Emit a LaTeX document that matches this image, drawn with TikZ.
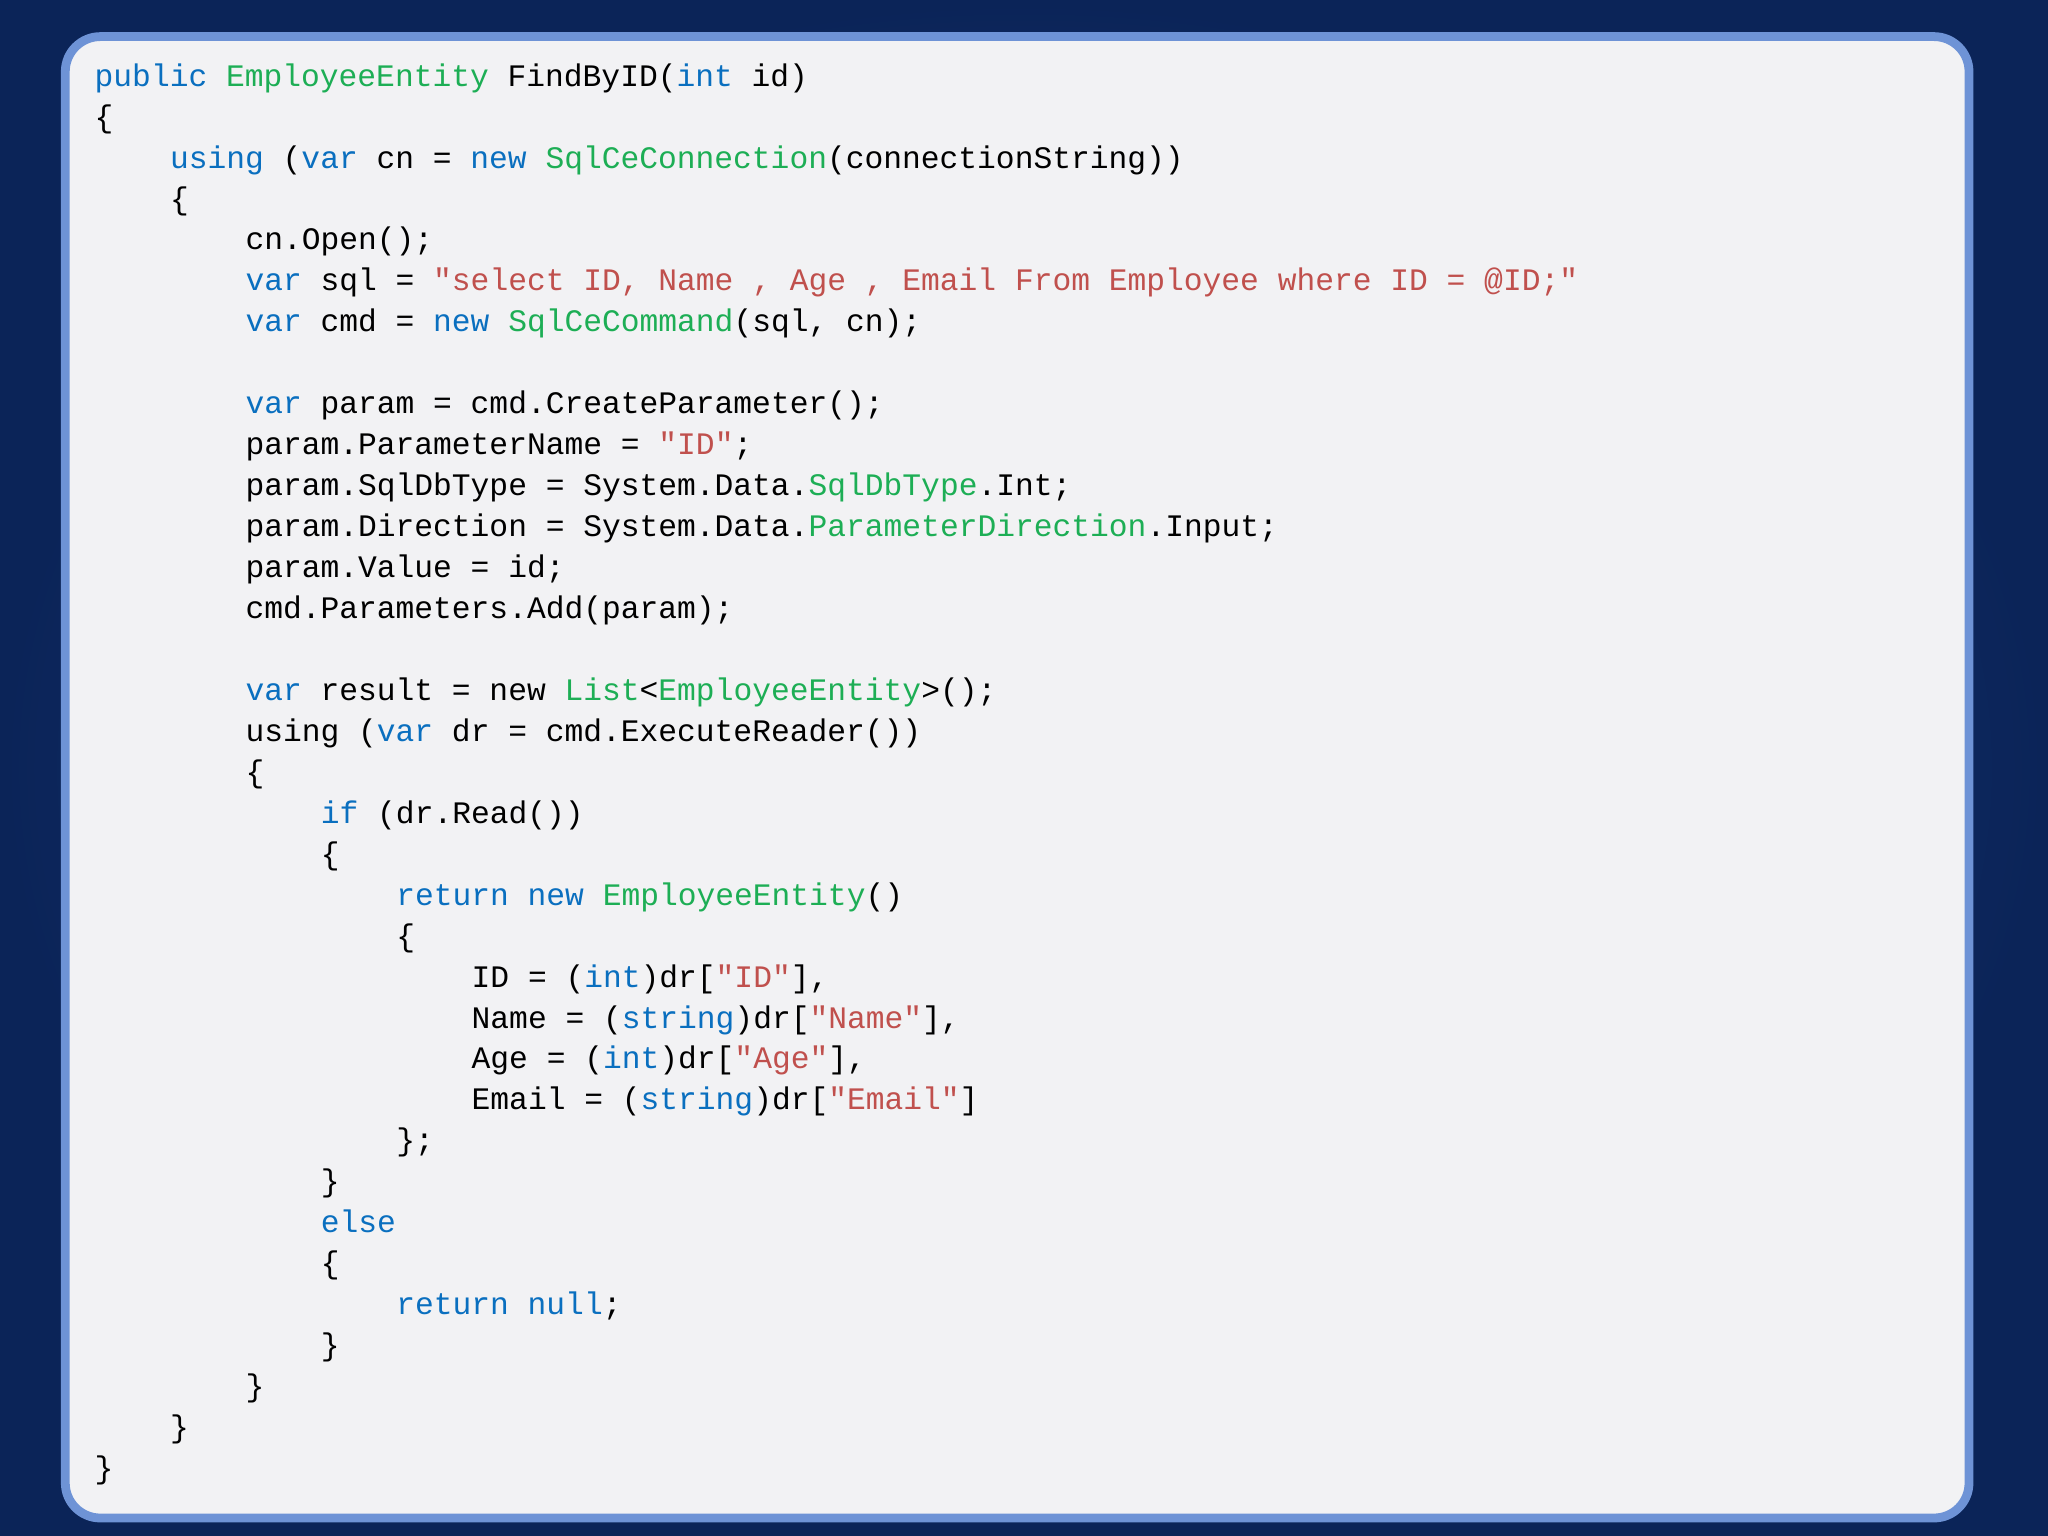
\documentclass[tikz,border=0pt]{standalone}
\usepackage{fontspec}
\setmonofont{Liberation Mono}
\usetikzlibrary{shadings}
\definecolor{kwc}{HTML}{0A6FBF}
\definecolor{tyc}{HTML}{1DAE55}
\definecolor{stc}{HTML}{C0504D}
\definecolor{bgin}{HTML}{1E3F85}
\definecolor{bgout}{HTML}{0B2458}
\definecolor{panelc}{HTML}{F2F2F4}
\definecolor{bordc}{HTML}{6E93D6}
\newcommand\kw[1]{\textcolor{kwc}{#1}}
\newcommand\ty[1]{\textcolor{tyc}{#1}}
\newcommand\cstr[1]{\textcolor{stc}{#1}}
\tikzset{codeline/.style={anchor=base west,inner sep=0pt,font=\ttfamily\fontsize{8.9}{10}\selectfont,text=black}}
\newcommand\cl[3]{\node[codeline] (l#1) at ({0.94+#2*0.754},{-0.862-#1*0.4095}) {#3};}
\begin{document}
\begin{tikzpicture}
\useasboundingbox (0,0) rectangle (20.48,-15.36);
\shade[inner color=bgin,outer color=bgout] (0,0) rectangle (20.48,-15.36);
\draw[bordc,line width=2.5pt,fill=panelc,rounded corners=0.35cm] (0.653,-0.366) rectangle (19.69,-15.18);
\cl{0}{0}{\kw{public} \ty{EmployeeEntity} FindByID(\kw{int} id)}
\cl{1}{0}{\{}
\cl{2}{1}{\kw{using} (\kw{var} cn = \kw{new} \ty{SqlCeConnection}(connectionString))}
\cl{3}{1}{\{}
\cl{4}{2}{cn.Open();}
\cl{5}{2}{\kw{var} sql = \cstr{"select ID, Name , Age , Email From Employee where ID = @ID;"}}
\cl{6}{2}{\kw{var} cmd = \kw{new} \ty{SqlCeCommand}(sql, cn);}
\cl{8}{2}{\kw{var} param = cmd.CreateParameter();}
\cl{9}{2}{param.ParameterName = \cstr{"ID"};}
\cl{10}{2}{param.SqlDbType = System.Data.\ty{SqlDbType}.Int;}
\cl{11}{2}{param.Direction = System.Data.\ty{ParameterDirection}.Input;}
\cl{12}{2}{param.Value = id;}
\cl{13}{2}{cmd.Parameters.Add(param);}
\cl{15}{2}{\kw{var} result = new \ty{List}<\ty{EmployeeEntity}>();}
\cl{16}{2}{using (\kw{var} dr = cmd.ExecuteReader())}
\cl{17}{2}{\{}
\cl{18}{3}{\kw{if} (dr.Read())}
\cl{19}{3}{\{}
\cl{20}{4}{\kw{return} \kw{new} \ty{EmployeeEntity}()}
\cl{21}{4}{\{}
\cl{22}{5}{ID = (\kw{int})dr[\cstr{"ID"}],}
\cl{23}{5}{Name = (\kw{string})dr[\cstr{"Name"}],}
\cl{24}{5}{Age = (\kw{int})dr[\cstr{"Age"}],}
\cl{25}{5}{Email = (\kw{string})dr[\cstr{"Email"}]}
\cl{26}{4}{\};}
\cl{27}{3}{\}}
\cl{28}{3}{\kw{else}}
\cl{29}{3}{\{}
\cl{30}{4}{\kw{return} \kw{null};}
\cl{31}{3}{\}}
\cl{32}{2}{\}}
\cl{33}{1}{\}}
\cl{34}{0}{\}}
\end{tikzpicture}
\end{document}
